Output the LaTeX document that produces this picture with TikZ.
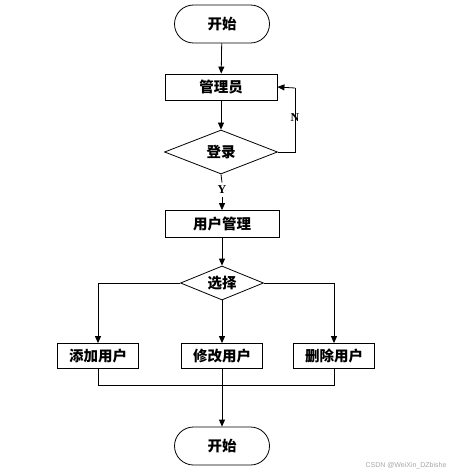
\documentclass[tikz,border=0pt]{standalone}
\usepackage{fontspec}
\setmainfont{Liberation Serif}
\newfontfamily\cjk{Noto Sans CJK SC}
\newfontfamily\wmfont{Liberation Sans}
\usetikzlibrary{arrows.meta,shapes.geometric,positioning}
\tikzset{
  base/.style={draw=black, line width=0.8pt, font=\cjk\bfseries\fontsize{14.5}{16}\selectfont, inner sep=0pt},
  term/.style={base, rounded corners=19pt, minimum width=95pt, minimum height=38pt},
  proc/.style={base, rectangle, minimum width=112pt, minimum height=26pt},
  small/.style={base, rectangle, minimum width=81pt, minimum height=25pt},
  dec/.style={base, diamond, aspect=2.5},
  conn/.style={line width=0.8pt, -{Triangle[length=7pt,width=6pt]}},
  line/.style={line width=0.8pt},
  lbl/.style={font=\bfseries\fontsize{12}{14}\selectfont}
}
\begin{document}
\begin{tikzpicture}[x=1pt,y=-1pt]
\useasboundingbox (0,0) rectangle (454,476);
\node[term] (start) at (222,24) {开始};
\node[proc] (admin) at (221,87) {管理员};
\node[dec, minimum width=113pt, minimum height=44pt] (login) at (221,152) {登录};
\node[proc, minimum width=114pt, minimum height=27pt] (um) at (222,224) {用户管理};
\node[dec, minimum width=83pt, minimum height=34pt] (sel) at (222,283) {选择};
\node[small] (add) at (98,356) {添加用户};
\node[small] (mod) at (222,356) {修改用户};
\node[small] (del) at (334,356) {删除用户};
\node[term] (end) at (222,446) {开始};
\coordinate (nr) at (295,152);
\coordinate (nt) at (295,88);
\coordinate (jl) at (98,385);
\coordinate (jr) at (334,385);
\node[lbl] (N) at (295,118) {N};
\node[lbl] (Y) at (222,190) {Y};
\node[font=\wmfont\fontsize{7}{8}\selectfont, text=gray!70] (wm) at (406,466) {CSDN @WeiXin\_DZbishe};

\draw[conn] (start) -- (admin);
\draw[conn] (admin) -- (login);
\draw[line] (login.east) -- (nr) -- (nt);
\draw[conn] (nt) -- (admin.east);
\draw[line] (login.south) -- (Y.north);
\draw[conn] (Y.south) -- (um.north);
\draw[conn] (um) -- (sel);
\draw[conn] (sel.west) -| (add.north);
\draw[conn] (sel.south) -- (mod.north);
\draw[conn] (sel.east) -| (del.north);
\draw[line] (add.south) -- (jl) -- (jr) -- (del.south);
\draw[conn] (mod.south) -- (end.north);
\end{tikzpicture}
\end{document}
